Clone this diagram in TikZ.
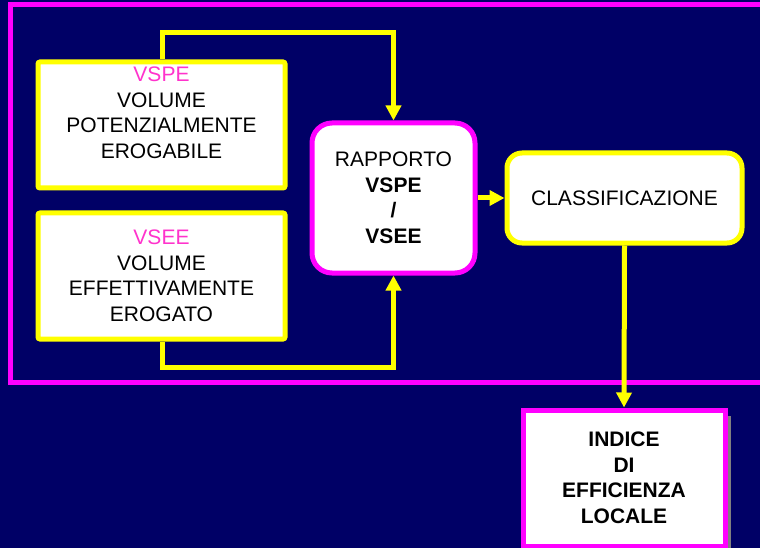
\documentclass[tikz,border=0pt]{standalone}
\usepackage{fontspec}
\setmainfont{Liberation Sans}
\usetikzlibrary{arrows.meta,shadows}
\definecolor{navybg}{RGB}{0,0,102}
\definecolor{magframe}{RGB}{255,0,255}
\definecolor{yelbox}{RGB}{255,255,0}
\definecolor{pinklabel}{RGB}{255,51,204}
\definecolor{shadowgray}{RGB}{128,128,128}
\begin{document}
\begin{tikzpicture}[x=1pt,y=-1pt,
  txt/.style={font=\fontsize{21}{25.5}\selectfont, align=center, text=black, inner sep=0pt},
  ybox/.style={draw=yelbox, fill=white, line width=5pt, rounded corners=2pt, inner sep=0pt},
  mbox/.style={draw=magframe, fill=white, line width=5pt, inner sep=0pt},
  conn/.style={draw=yelbox, line width=5pt, -{Triangle[width=15pt,length=15pt]}},
]
\fill[navybg] (0,0) rectangle (760,548);
\useasboundingbox (0,0) rectangle (760,548);
\draw[magframe, line width=5pt] (10.5,4.5) rectangle (790,382);

% input boxes
\node[ybox, minimum width=247pt, minimum height=126pt] (vspe) at (161.5,125) {};
\node[txt] (vspetxt) at (161.5,113) {\textcolor{pinklabel}{VSPE}\\VOLUME\\POTENZIALMENTE\\EROGABILE};
\node[ybox, minimum width=247pt, minimum height=126pt] (vsee) at (161.5,276) {};
\node[txt] (vseetxt) at (161.5,276) {\textcolor{pinklabel}{VSEE}\\VOLUME\\EFFETTIVAMENTE\\EROGATO};

% ratio box
\node[mbox, rounded corners=20pt, minimum width=163pt, minimum height=150pt, txt] (rap) at (393.5,198)
  {RAPPORTO\\\textbf{VSPE}\\\textbf{/}\\\textbf{VSEE}};

% classification
\node[ybox, rounded corners=15pt, minimum width=235pt, minimum height=90pt, txt] (cls) at (624.5,198) {CLASSIFICAZIONE};

% index
\node[mbox, minimum width=202pt, minimum height=136pt, txt,
  drop shadow={shadow xshift=6pt, shadow yshift=-6pt, fill=shadowgray, opacity=1}] (idx) at (624,478)
  {\textbf{INDICE}\\\textbf{DI}\\\textbf{EFFICIENZA}\\\textbf{LOCALE}};

% connectors
\coordinate (topbend) at (162.5,32.5);
\coordinate (botbend) at (162.5,367.5);
\draw[conn] (vspe.north -| topbend) -- (topbend) -| (rap.north);
\draw[conn] (vsee.south -| botbend) -- (botbend) -| (rap.south);
\draw[conn] (rap.east) -- (cls.west);
\draw[conn] (cls.south) -- (idx.north);
\end{tikzpicture}
\end{document}
